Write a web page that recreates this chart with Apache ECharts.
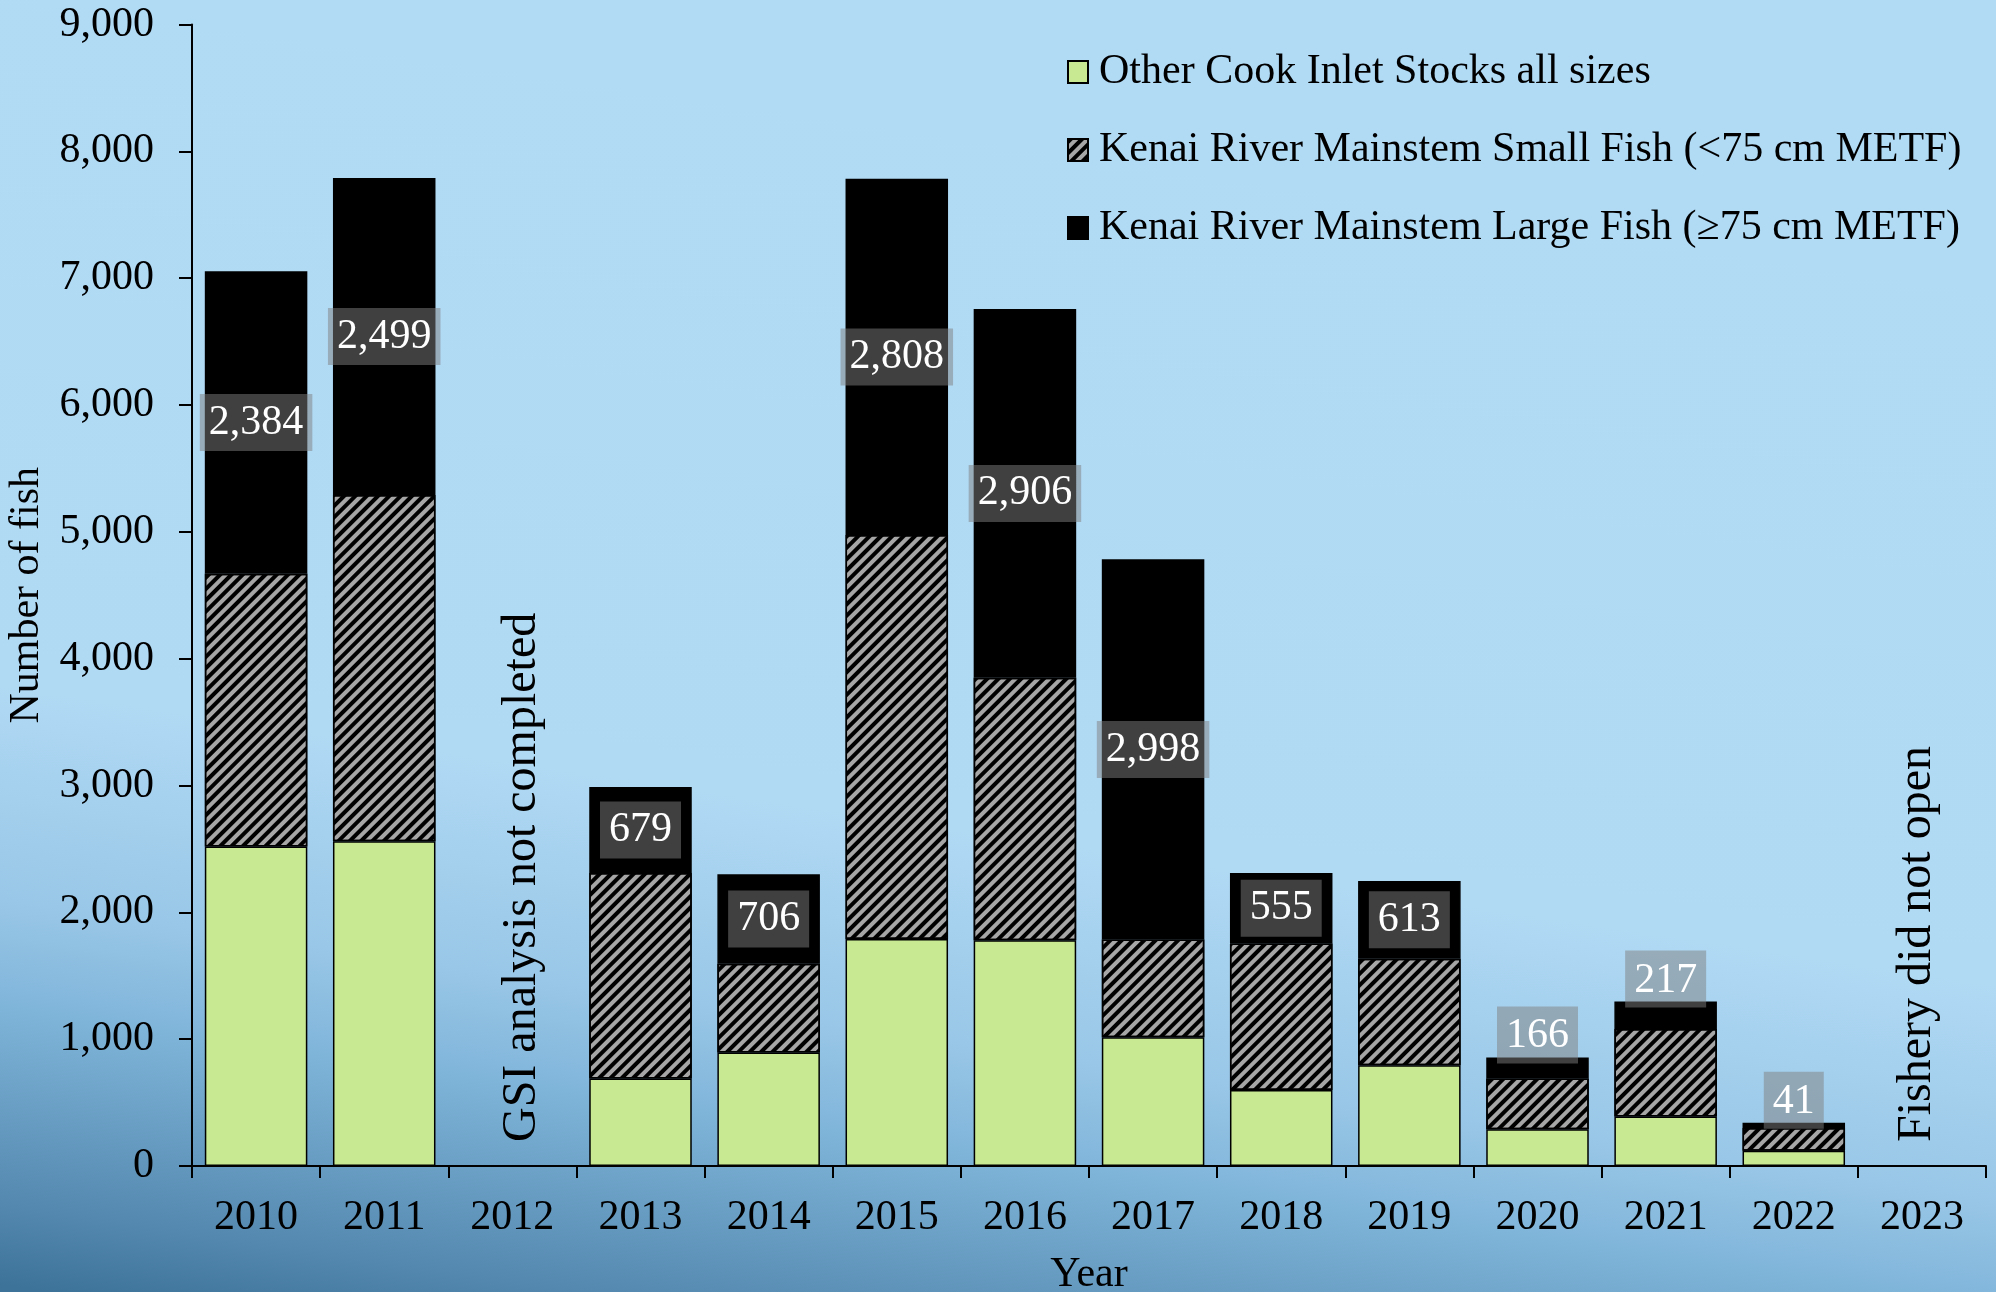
<!DOCTYPE html>
<html>
<head>
<meta charset="utf-8">
<script src="https://cdn.jsdelivr.net/npm/echarts@6/dist/echarts.min.js"></script>
<style>
html,body{margin:0;padding:0;width:1996px;height:1292px;overflow:hidden;}
#chart{width:1996px;height:1292px;}
</style>
</head>
<body>
<div id="chart"></div>
<script>
// ---- data ----
const years = ['2010','2011','2012','2013','2014','2015','2016','2017','2018','2019','2020','2021','2022','2023'];
const otherStocks = [2520, 2560, null, 690, 895, 1790, 1780, 1015, 600, 795, 290, 390, 120, null];
const kenaiSmall  = [2150, 2730, null, 1620, 700, 3185, 2070, 770, 1155, 840, 400, 690, 180, null];
const kenaiLarge  = [2384, 2499, null, 679, 706, 2808, 2906, 2998, 555, 613, 166, 217, 41, null];
const yTicks = [0, 1000, 2000, 3000, 4000, 5000, 6000, 7000, 8000, 9000];
const seriesNames = [
  'Other Cook Inlet Stocks all sizes',
  'Kenai River Mainstem Small Fish (<75 cm METF)',
  'Kenai River Mainstem Large Fish (\u226575 cm METF)'
];
const notes = [
  {year: '2012', text: 'GSI analysis not completed', dx: 10},
  {year: '2023', text: 'Fishery did not open', dx: -5}
];

const FONT = "'Liberation Serif', 'Times New Roman', serif";
const chart = echarts.init(document.getElementById('chart'), null, {renderer: 'canvas'});

const barBorder = {borderColor: '#000', borderWidth: 1.5};

const largeData = kenaiLarge.map(v => {
  if (v == null) return v;
  const small = v < 300;
  return {
    value: v,
    label: small ? {position: 'top', distance: -6} : {position: 'inside'}
  };
});

const option = {
  backgroundColor: {
    type: 'linear', global: true,
    x: 300, y: 0, x2: 105, y2: 1300,
    colorStops: [
      {offset: 0, color: '#B1DAF5'},
      {offset: 0.55, color: '#B0D9F4'},
      {offset: 0.71, color: '#99C7E7'},
      {offset: 0.79, color: '#80B5DA'},
      {offset: 0.94, color: '#5488AE'},
      {offset: 1, color: '#3E7399'}
    ]
  },
  animation: false,
  textStyle: {fontFamily: FONT},
  grid: {left: 192, right: 10, top: 24.5, bottom: 126, containLabel: false, outerBoundsMode: 'none'},
  legend: {
    orient: 'vertical',
    left: 1062, top: 46,
    itemWidth: 20, itemHeight: 22, itemGap: 36,
    icon: 'rect',
    textStyle: {fontFamily: FONT, fontSize: 42, lineHeight: 42, color: '#000', padding: [0, 0, 0, 6]},
    data: seriesNames
  },
  xAxis: {
    type: 'category',
    data: years,
    name: 'Year',
    nameLocation: 'middle',
    nameGap: 88,
    nameTextStyle: {fontFamily: FONT, fontSize: 42, color: '#000'},
    axisLine: {lineStyle: {color: '#000', width: 2}},
    axisTick: {show: true, inside: false, length: 12, alignWithLabel: false, lineStyle: {color: '#000', width: 2}},
    axisLabel: {fontFamily: FONT, fontSize: 42, color: '#000', margin: 31, interval: 0}
  },
  yAxis: {
    type: 'value',
    min: yTicks[0], max: yTicks[yTicks.length - 1], interval: 1000,
    name: 'Number of fish',
    nameLocation: 'middle',
    nameGap: 144,
    nameTextStyle: {fontFamily: FONT, fontSize: 42, color: '#000'},
    axisLine: {show: true, lineStyle: {color: '#000', width: 2}},
    axisTick: {show: true, inside: false, length: 13, lineStyle: {color: '#000', width: 2}},
    splitLine: {show: false},
    axisLabel: {
      fontFamily: FONT, fontSize: 42, color: '#000', margin: 38,
      formatter: v => v.toLocaleString('en-US')
    }
  },
  series: [
    {
      name: seriesNames[0], type: 'bar', stack: 'total',
      barCategoryGap: '20%',
      data: otherStocks,
      itemStyle: Object.assign({color: '#C8E992'}, barBorder)
    },
    {
      name: seriesNames[1], type: 'bar', stack: 'total',
      barCategoryGap: '20%',
      data: kenaiSmall,
      itemStyle: Object.assign({
        color: '#A6A6A6',
        decal: {
          symbol: 'rect', symbolSize: 1,
          dashArrayX: [1, 0], dashArrayY: [3.5, 3.5],
          rotation: -Math.PI / 4,
          color: '#000'
        }
      }, barBorder)
    },
    {
      name: seriesNames[2], type: 'bar', stack: 'total',
      barCategoryGap: '20%',
      data: largeData,
      itemStyle: Object.assign({color: '#000'}, barBorder),
      label: {
        show: true,
        formatter: p => Number(p.value).toLocaleString('en-US'),
        fontFamily: FONT, fontSize: 42, lineHeight: 42, color: '#fff',
        backgroundColor: 'rgba(128,128,128,0.5)',
        padding: [9, 9, 6, 9]
      }
    }
  ]
};
chart.setOption(option);

// annotations anchored at their categories on the axis
const y0 = chart.convertToPixel({yAxisIndex: 0}, 0);
chart.setOption({
  graphic: notes.map(n => ({
    type: 'text',
    x: chart.convertToPixel({xAxisIndex: 0}, n.year) + n.dx,
    y: y0 - 24,
    rotation: Math.PI / 2,
    style: {
      text: n.text,
      font: "48px 'Liberation Serif', 'Times New Roman', serif",
      fill: '#000',
      align: 'left',
      verticalAlign: 'middle'
    }
  }))
});
</script>
</body>
</html>
